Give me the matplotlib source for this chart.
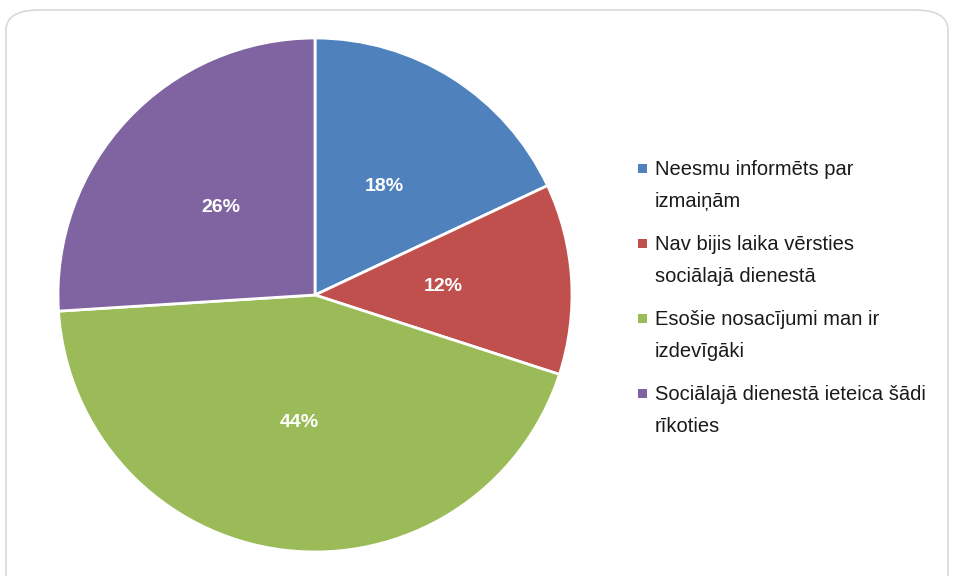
import matplotlib
matplotlib.use("Agg")
import matplotlib.pyplot as plt
from matplotlib.patches import FancyBboxPatch, Rectangle

categories = ["Neesmu informēts par\nizmaiņām",
              "Nav bijis laika vērsties\nsociālajā dienestā",
              "Esošie nosacījumi man ir\nizdevīgāki",
              "Sociālajā dienestā ieteica šādi\nrīkoties"]
values = [18, 12, 44, 26]
colors = ["#4F81BD", "#C0504D", "#9BBB59", "#8064A2"]

W, H = 954, 576
fig = plt.figure(figsize=(W/100, H/100), dpi=100)
plt.rcParams['font.family'] = ['Liberation Sans', 'DejaVu Sans']

# rounded chart border
border = FancyBboxPatch((6/W, -30/H), 942/W, (H-10+30)/H,
                        boxstyle="round,pad=0,rounding_size=0.035",
                        transform=fig.transFigure, facecolor="white",
                        edgecolor="#D9D9D9", linewidth=1.2, zorder=0)
fig.patches.append(border)

cx, cy, r = 315, 295, 257
ax = fig.add_axes([(cx-r)/W, (H-cy-r)/H, 2*r/W, 2*r/H])
ax.set_zorder(1)
wedges, texts, autotexts = ax.pie(values, colors=colors, startangle=90, counterclock=False,
                                  autopct='%1.0f%%', pctdistance=0.5,
                                  wedgeprops=dict(edgecolor='white', linewidth=2),
                                  textprops=dict(color='white', fontsize=14, fontweight='bold'))
ax.set_xlim(-1, 1)
ax.set_ylim(-1, 1)
ax.set_aspect('equal')
ax.axis('off')

# legend
tx, ty0, dy = 655, 168, 75
for i, (lab, col) in enumerate(zip(categories, colors)):
    y = ty0 + i*dy
    fig.patches.append(Rectangle(((tx-17)/W, (H-y-4.5)/H), 9/W, 9/H,
                                 transform=fig.transFigure, facecolor=col,
                                 edgecolor='none', zorder=2))
    fig.text(tx/W, (H-y+8)/H, lab, fontsize=14.5, color='#1a1a1a', va='top',
             ha='left', linespacing=1.85, transform=fig.transFigure)

fig.savefig("out.png", dpi=100)
